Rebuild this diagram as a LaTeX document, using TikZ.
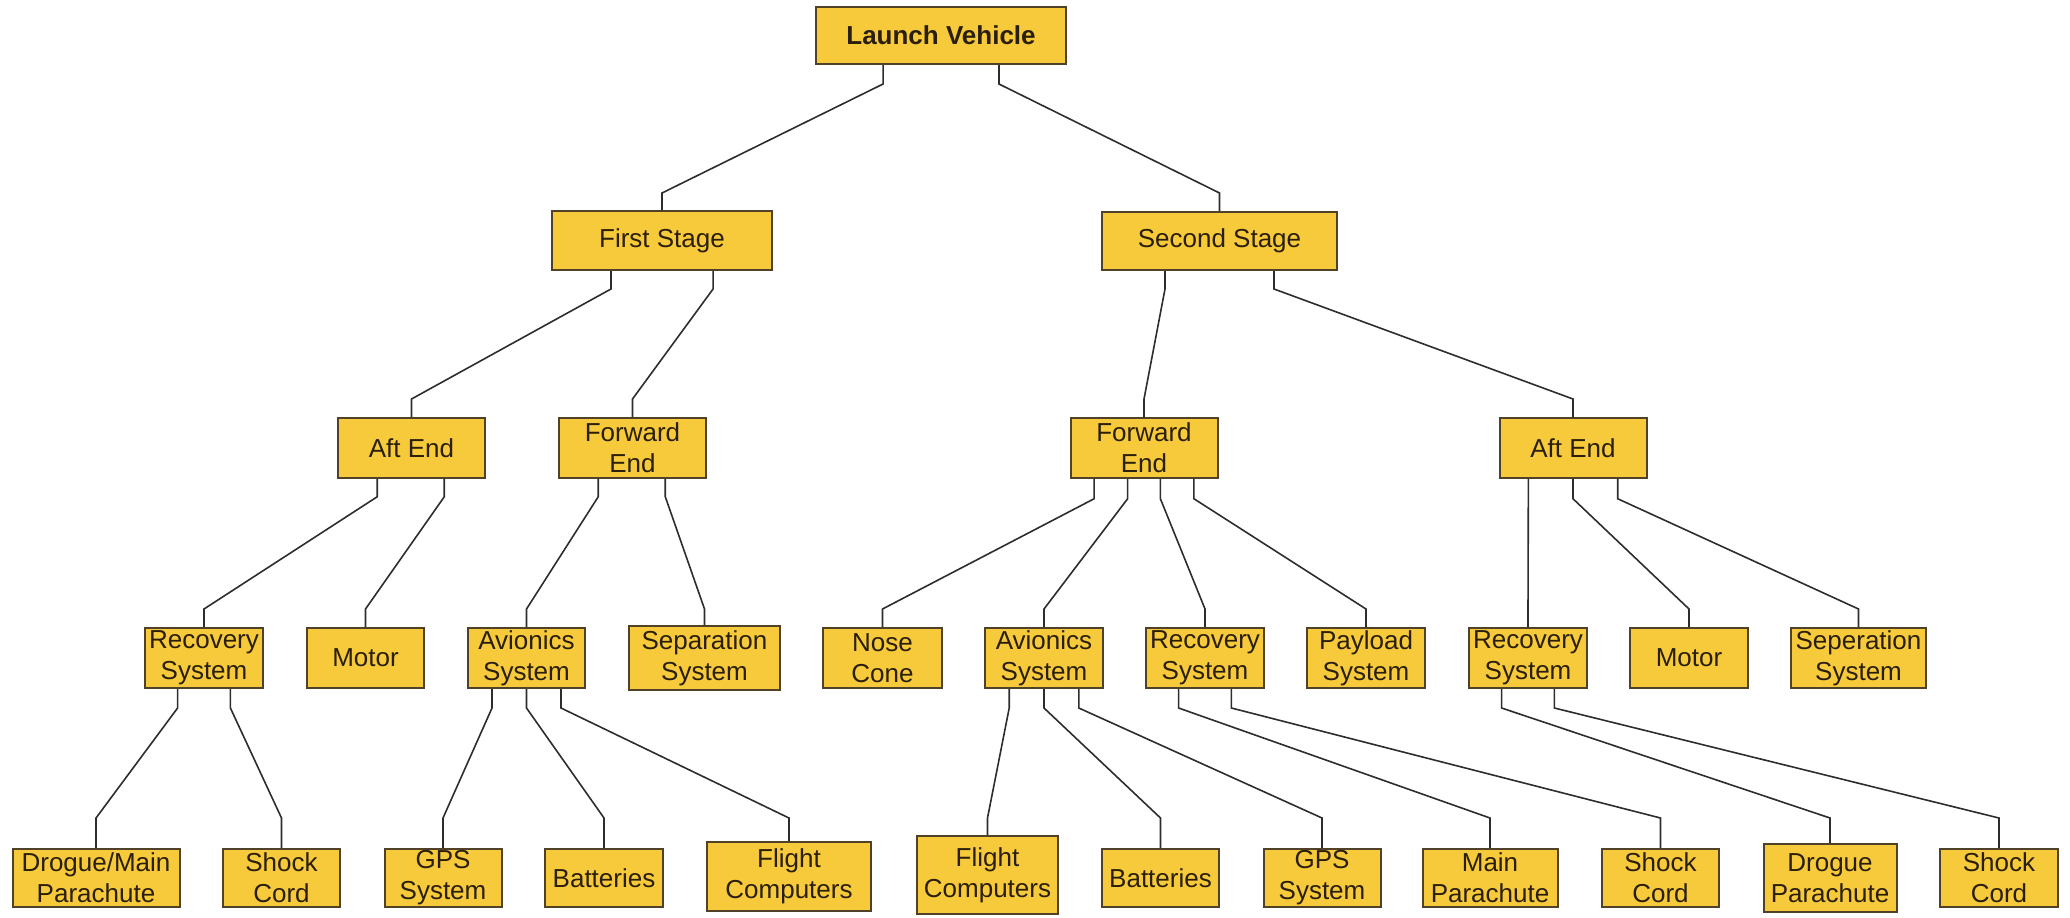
\documentclass[tikz,border=0pt]{standalone}
\usepackage{fontspec}
\setmainfont{Liberation Sans}
\usetikzlibrary{calc}
\definecolor{partfill}{RGB}{246,202,58}
\definecolor{partdraw}{RGB}{80,66,40}
\definecolor{parttext}{RGB}{42,30,12}
\definecolor{linkdraw}{RGB}{45,45,45}
\begin{document}
\begin{tikzpicture}
[x=.5pt,y=-.5pt,
every node/.style={font=\fontsize{13}{15.5}\selectfont},
part/.style={draw=partdraw,fill=partfill,text=parttext,line width=1pt,
inner sep=0pt,align=center,minimum width=59pt,minimum height=30pt},
box size/.style 2 args={minimum width=#1*.5pt,minimum height=#2*.5pt},
link/.style={draw=linkdraw,line width=.8pt}]
\useasboundingbox (0,0) rectangle (2070,917);
% rows where the links bend
\coordinate (row1) at (0,193);
\coordinate (row2) at (0,399);
\coordinate (row3) at (0,609);
\coordinate (row4) at (0,818);
% vehicle and stages
\node [part,box size={250}{57},font=\fontsize{13}{15.5}\selectfont\bfseries] (lv) at (941,35.5) {Launch Vehicle};
\node [part,box size={220}{59}] (fs) at (662,240.5) {First Stage};
\node [part,box size={235}{58}] (ss) at (1219.5,241) {Second Stage};
% ends
\node [part,box size={147}{59.5}] (ae1) at (411.5,448) {Aft End};
\node [part,box size={147}{59.5}] (fe1) at (632.5,448) {Forward\\End};
\node [part,box size={147}{59.5}] (fe2) at (1144,448) {Forward\\End};
\node [part,box size={147}{59.5}] (ae2) at (1573,448) {Aft End};
% systems
\node [part,box size={118}{60}] (rs1) at (204,658) {Recovery\\System};
\node [part,box size={117}{60}] (mo1) at (365.5,658) {Motor};
\node [part,box size={117}{60}] (av1) at (526.5,658) {Avionics\\System};
\node [part,box size={151}{64}] (sp1) at (704.5,658) {Separation\\System};
\node [part,box size={119}{60}] (nc) at (882.5,658) {Nose\\Cone};
\node [part,box size={118}{60}] (av2) at (1044,658) {Avionics\\System};
\node [part,box size={118}{60}] (rs2) at (1205,658) {Recovery\\System};
\node [part,box size={118}{60}] (pl) at (1366,658) {Payload\\System};
\node [part,box size={118}{60}] (rs3) at (1528,658) {Recovery\\System};
\node [part,box size={118}{60}] (mo3) at (1689,658) {Motor};
\node [part,box size={135}{60}] (sp3) at (1858.5,658) {Seperation\\System};
% components
\node [part,box size={167}{58.5}] (dm) at (96,878) {Drogue/Main\\Parachute};
\node [part,box size={117}{58.5}] (sc1) at (281.5,878) {Shock\\Cord};
\node [part,box size={117}{58.5}] (gps1) at (443,878) {GPS\\System};
\node [part,box size={118}{58.5}] (bat1) at (604,878) {Batteries};
\node [part,box size={164}{69}] (fc1) at (789,876.5) {Flight\\Computers};
\node [part,box size={141}{78}] (fc2) at (987.5,875) {Flight\\Computers};
\node [part,box size={117}{58.5}] (bat2) at (1160.5,878) {Batteries};
\node [part,box size={117}{58.5}] (gps2) at (1322,878) {GPS\\System};
\node [part,box size={135}{58.5}] (mp) at (1490,878) {Main\\Parachute};
\node [part,box size={117}{58.5}] (sc2) at (1660.5,878) {Shock\\Cord};
\node [part,box size={133}{68}] (dp) at (1830,878) {Drogue\\Parachute};
\node [part,box size={118}{58.5}] (sc3) at (1999,878) {Shock\\Cord};
% links
\draw [link] ($(lv.south west)!.27!(lv.south east)$) -- ++(0,19) -- (fs.north |- row1) -- (fs.north);
\draw [link] ($(lv.south west)!.73!(lv.south east)$) -- ++(0,19) -- (ss.north |- row1) -- (ss.north);
\draw [link] ($(fs.south west)!.27!(fs.south east)$) -- ++(0,18) -- (ae1.north |- row2) -- (ae1.north);
\draw [link] ($(fs.south west)!.73!(fs.south east)$) -- ++(0,18) -- (fe1.north |- row2) -- (fe1.north);
\draw [link] ($(ss.south west)!.27!(ss.south east)$) -- ++(0,18) -- (fe2.north |- row2) -- (fe2.north);
\draw [link] ($(ss.south west)!.73!(ss.south east)$) -- ++(0,18) -- (ae2.north |- row2) -- (ae2.north);
\draw [link] ($(ae1.south west)!.27!(ae1.south east)$) -- ++(0,18) -- (rs1.north |- row3) -- (rs1.north);
\draw [link] ($(ae1.south west)!.72!(ae1.south east)$) -- ++(0,18) -- (mo1.north |- row3) -- (mo1.north);
\draw [link] ($(fe1.south west)!.27!(fe1.south east)$) -- ++(0,18) -- (av1.north |- row3) -- (av1.north);
\draw [link] ($(fe1.south west)!.72!(fe1.south east)$) -- ++(0,18) -- (sp1.north |- row3) -- (sp1.north);
\draw [link] ($(fe2.south west)!.165!(fe2.south east)$) -- ++(0,20) -- (nc.north |- row3) -- (nc.north);
\draw [link] ($(fe2.south west)!.39!(fe2.south east)$) -- ++(0,20) -- (av2.north |- row3) -- (av2.north);
\draw [link] ($(fe2.south west)!.61!(fe2.south east)$) -- ++(0,20) -- (rs2.north |- row3) -- (rs2.north);
\draw [link] ($(fe2.south west)!.835!(fe2.south east)$) -- ++(0,20) -- (pl.north |- row3) -- (pl.north);
\draw [link] ($(ae2.south west)!.2!(ae2.south east)$) -- ++(0,20) -- (rs3.north |- row3) -- (rs3.north);
\draw [link] ($(ae2.south west)!.5!(ae2.south east)$) -- ++(0,20) -- (mo3.north |- row3) -- (mo3.north);
\draw [link] ($(ae2.south west)!.8!(ae2.south east)$) -- ++(0,20) -- (sp3.north |- row3) -- (sp3.north);
\draw [link] ($(rs1.south west)!.28!(rs1.south east)$) -- ++(0,19) -- (dm.north |- row4) -- (dm.north);
\draw [link] ($(rs1.south west)!.72!(rs1.south east)$) -- ++(0,19) -- (sc1.north |- row4) -- (sc1.north);
\draw [link] ($(av1.south west)!.21!(av1.south east)$) -- ++(0,19) -- (gps1.north |- row4) -- (gps1.north);
\draw [link] ($(av1.south west)!.5!(av1.south east)$) -- ++(0,19) -- (bat1.north |- row4) -- (bat1.north);
\draw [link] ($(av1.south west)!.79!(av1.south east)$) -- ++(0,19) -- (fc1.north |- row4) -- (fc1.north);
\draw [link] ($(av2.south west)!.21!(av2.south east)$) -- ++(0,19) -- (fc2.north |- row4) -- (fc2.north);
\draw [link] ($(av2.south west)!.5!(av2.south east)$) -- ++(0,19) -- (bat2.north |- row4) -- (bat2.north);
\draw [link] ($(av2.south west)!.79!(av2.south east)$) -- ++(0,19) -- (gps2.north |- row4) -- (gps2.north);
\draw [link] ($(rs2.south west)!.28!(rs2.south east)$) -- ++(0,19) -- (mp.north |- row4) -- (mp.north);
\draw [link] ($(rs2.south west)!.72!(rs2.south east)$) -- ++(0,19) -- (sc2.north |- row4) -- (sc2.north);
\draw [link] ($(rs3.south west)!.28!(rs3.south east)$) -- ++(0,19) -- (dp.north |- row4) -- (dp.north);
\draw [link] ($(rs3.south west)!.72!(rs3.south east)$) -- ++(0,19) -- (sc3.north |- row4) -- (sc3.north);
\end{tikzpicture}
\end{document}
